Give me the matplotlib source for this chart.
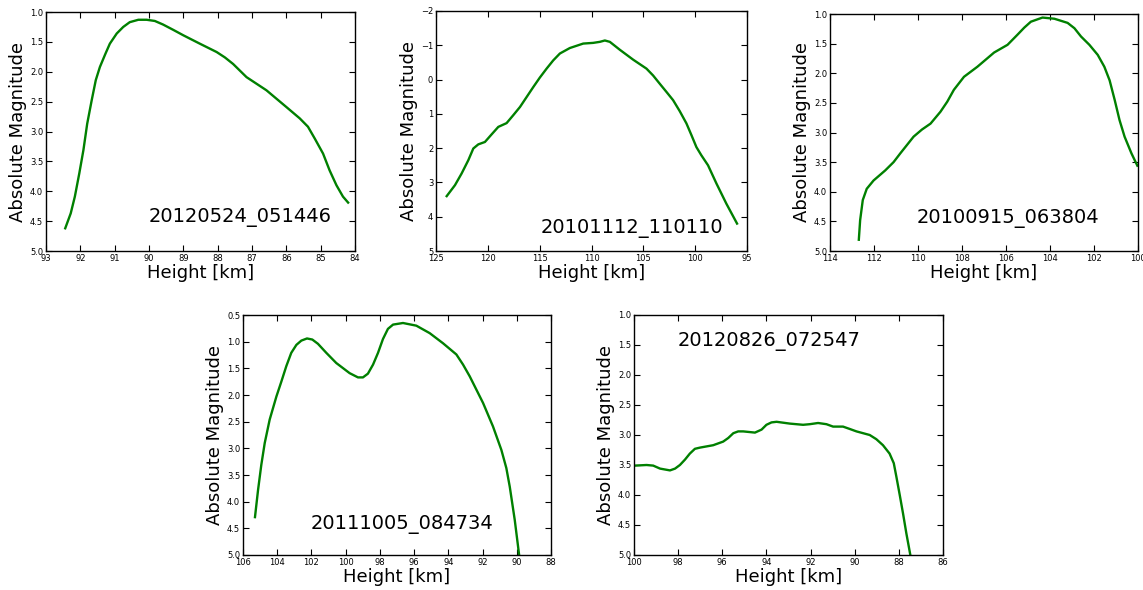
import matplotlib
matplotlib.use("Agg")
import matplotlib.pyplot as plt
from matplotlib.ticker import MultipleLocator, FormatStrFormatter, ScalarFormatter

# ---- data ----
h1 = [92.44, 92.28, 92.16, 92.03, 91.91, 91.80, 91.67, 91.55, 91.43, 91.27, 91.14, 90.94,
      90.75, 90.56, 90.31, 90.07, 89.83, 89.59, 89.29, 89.0, 88.52, 88.03, 87.79, 87.55,
      87.16, 86.58, 86.0, 85.61, 85.37, 85.17, 84.93, 84.74, 84.54, 84.35, 84.2]
m1 = [4.62, 4.37, 4.09, 3.70, 3.31, 2.87, 2.48, 2.14, 1.92, 1.70, 1.53, 1.36,
      1.25, 1.17, 1.13, 1.13, 1.15, 1.21, 1.30, 1.39, 1.53, 1.67, 1.76, 1.87,
      2.09, 2.31, 2.59, 2.78, 2.92, 3.12, 3.37, 3.65, 3.90, 4.09, 4.19]

h2 = [123.97, 123.17, 122.53, 121.88, 121.40, 120.92, 120.28, 119.64, 118.99, 118.19,
      117.55, 116.90, 116.26, 115.62, 114.98, 114.33, 113.69, 113.05, 112.09, 110.80,
      109.84, 109.20, 108.71, 108.23, 107.27, 105.98, 104.70, 104.06, 103.42, 102.77,
      102.13, 101.49, 100.84, 100.36, 99.88, 99.40, 98.76, 97.95, 96.99, 95.96]
m2 = [3.40, 3.08, 2.74, 2.35, 2.01, 1.89, 1.82, 1.60, 1.38, 1.27,
      1.04, 0.80, 0.51, 0.22, -0.06, -0.32, -0.56, -0.76, -0.92, -1.05,
      -1.07, -1.10, -1.14, -1.10, -0.87, -0.58, -0.32, -0.12, 0.12, 0.36,
      0.60, 0.92, 1.28, 1.62, 1.97, 2.21, 2.50, 3.03, 3.62, 4.20]

h3 = [112.69, 112.63, 112.51, 112.33, 112.02, 111.49, 111.11, 110.80, 110.50, 110.20,
      109.82, 109.43, 108.98, 108.67, 108.37, 107.91, 107.30, 106.92, 106.54, 105.93,
      105.48, 105.17, 104.87, 104.34, 103.80, 103.20, 102.89, 102.59, 102.21, 101.83,
      101.53, 101.29, 101.06, 100.84, 100.61, 100.30, 100.03]
m3 = [4.81, 4.48, 4.14, 3.95, 3.81, 3.64, 3.50, 3.35, 3.21, 3.07,
      2.95, 2.85, 2.65, 2.48, 2.28, 2.06, 1.89, 1.77, 1.65, 1.52,
      1.35, 1.23, 1.13, 1.06, 1.08, 1.15, 1.24, 1.38, 1.52, 1.69,
      1.89, 2.12, 2.45, 2.79, 3.07, 3.35, 3.56]

h4 = [105.30, 105.12, 104.93, 104.73, 104.44, 104.05, 103.76, 103.47, 103.18, 102.88,
      102.59, 102.26, 101.95, 101.62, 101.13, 100.55, 99.77, 99.28, 98.99, 98.70,
      98.40, 98.11, 97.82, 97.53, 97.23, 96.65, 95.87, 95.09, 94.31, 93.53,
      93.14, 92.75, 92.36, 91.97, 91.39, 90.90, 90.61, 90.41, 90.12, 89.87]
m4 = [4.29, 3.78, 3.31, 2.90, 2.46, 2.03, 1.75, 1.46, 1.21, 1.06,
      0.98, 0.94, 0.96, 1.04, 1.21, 1.40, 1.59, 1.67, 1.67, 1.60,
      1.43, 1.21, 0.95, 0.76, 0.68, 0.65, 0.70, 0.84, 1.03, 1.24,
      1.43, 1.65, 1.90, 2.15, 2.59, 3.03, 3.37, 3.72, 4.34, 4.98]

h5 = [99.95, 99.43, 99.13, 98.82, 98.37, 98.14, 97.92, 97.69, 97.47, 97.24,
      97.01, 96.41, 95.96, 95.73, 95.50, 95.28, 95.05, 94.52, 94.22, 94.0,
      93.77, 93.54, 92.94, 92.34, 92.04, 91.66, 91.28, 90.98, 90.53, 90.22,
      89.92, 89.32, 89.02, 88.72, 88.42, 88.23, 88.11, 87.96, 87.81, 87.66, 87.48]
m5 = [3.51, 3.50, 3.51, 3.56, 3.59, 3.56, 3.50, 3.41, 3.31, 3.23,
      3.21, 3.17, 3.11, 3.05, 2.97, 2.94, 2.94, 2.96, 2.91, 2.83,
      2.79, 2.78, 2.81, 2.83, 2.82, 2.80, 2.82, 2.86, 2.86, 2.90,
      2.94, 3.00, 3.07, 3.17, 3.31, 3.47, 3.70, 4.00, 4.31, 4.64, 5.0]

names = ["20120524_051446", "20101112_110110", "20100915_063804",
         "20111005_084734", "20120826_072547"]

# ---- layout ----
W, H = 1143, 590
fig = plt.figure(figsize=(W / 100, H / 100), dpi=100)
fig.patch.set_facecolor("white")

# (left, top, right, bottom) in pixels
boxes = [(46, 12, 355, 251), (436, 11, 747, 251), (830, 14, 1138, 251),
         (243, 315, 551, 555), (634, 315, 943, 555)]
xlims = [(93, 84), (125, 95), (114, 100), (106, 88), (100, 86)]
ylims = [(5.0, 1.0), (5, -2), (5.0, 1.0), (5.0, 0.5), (5.0, 1.0)]
xsteps = [1, 5, 2, 2, 2]
ysteps = [0.5, 1, 0.5, 0.5, 0.5]
yfmts = ["%.1f", None, "%.1f", "%.1f", "%.1f"]
txtpos = [(0.333, 0.12), (0.338, 0.075), (0.28, 0.12), (0.22, 0.108), (0.142, 0.87)]
series = [(h1, m1), (h2, m2), (h3, m3), (h4, m4), (h5, m5)]

for i, (hx, my) in enumerate(series):
    l, t, r, b = boxes[i]
    ax = fig.add_axes([l / W, 1 - b / H, (r - l) / W, (b - t) / H])
    ax.plot(hx, my, color="#008000", lw=1.7, solid_joinstyle="round")
    ax.set_xlim(*xlims[i])
    ax.set_ylim(*ylims[i])
    ax.xaxis.set_major_locator(MultipleLocator(xsteps[i]))
    ax.yaxis.set_major_locator(MultipleLocator(ysteps[i]))
    if yfmts[i]:
        ax.yaxis.set_major_formatter(FormatStrFormatter(yfmts[i]))
    else:
        ax.yaxis.set_major_formatter(ScalarFormatter())
    ax.tick_params(direction="in", top=True, right=True, length=4, width=0.8,
                   labelsize=6, pad=2)
    for s in ax.spines.values():
        s.set_linewidth(1)
    ax.set_xlabel("Height [km]", fontsize=13, labelpad=1)
    ax.set_ylabel("Absolute Magnitude", fontsize=13, labelpad=2)
    ax.text(txtpos[i][0], txtpos[i][1], names[i], transform=ax.transAxes,
            fontsize=14, va="baseline", ha="left")

fig.savefig("out.png", dpi=100)
